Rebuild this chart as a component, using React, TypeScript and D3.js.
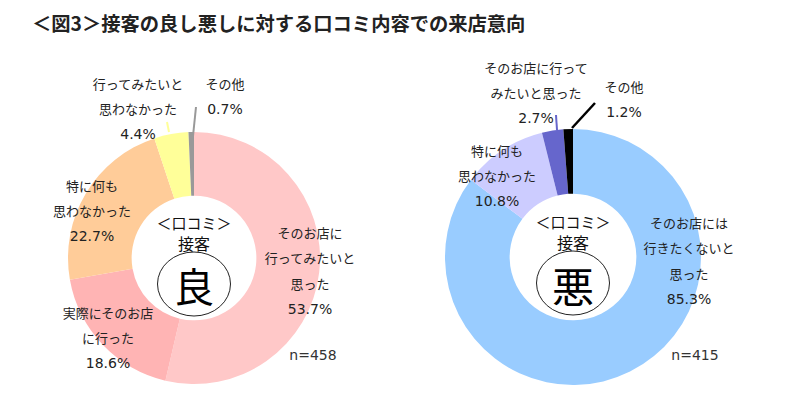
import React from 'react';
import * as d3 from 'd3';

// ---- data ----
const goodCategories = ['そのお店に行ってみたいと思った', '実際にそのお店に行った', '特に何も思わなかった', '行ってみたいと思わなかった', 'その他'];
const goodValues = [53.7, 18.6, 22.7, 4.4, 0.7];
const goodColors = ['#FFC8C8', '#FFB4B4', '#FFCC99', '#FFFF99', '#999999'];

const badCategories = ['そのお店には行きたくないと思った', '特に何も思わなかった', 'そのお店に行ってみたいと思った', 'その他'];
const badValues = [85.3, 10.8, 2.7, 1.2];
const badColors = ['#99CCFF', '#CCCCFF', '#6666CC', '#000000'];

// label lines as they are broken in the picture
const goodLabelLines = [
  ['そのお店に', '行ってみたいと', '思った'],
  ['実際にそのお店', 'に行った'],
  ['特に何も', '思わなかった'],
  ['行ってみたいと', '思わなかった'],
  ['その他'],
];
const badLabelLines = [
  ['そのお店には', '行きたくないと', '思った'],
  ['特に何も', '思わなかった'],
  ['そのお店に行って', 'みたいと思った'],
  ['その他'],
];

const goodN = 458;
const badN = 415;

const title = '＜図3＞接客の良し悪しに対する口コミ内容での来店意向';
const font = '"Noto Sans CJK JP", "Noto Sans", sans-serif';
const numFont = '"DejaVu Sans", sans-serif';

type Donut = {
  cx: number;
  cy: number;
  r: number;
  values: number[];
  colors: string[];
  lines: string[][];
  labelPos: [number, number][]; // top line centre, relative to chart centre
  leaders: ([number, number, number, number] | null)[];
  leaderWidth: number[];
  n: number;
  nPos: [number, number];
  word: string;
  wordSize: number;
};

const DonutChart = ({ d }: { d: Donut }) => {
  const pie = d3.pie<number>().sort(null).value(v => v);
  const arc = d3.arc<d3.PieArcDatum<number>>().innerRadius(d.r * 0.495).outerRadius(d.r);
  const arcs = pie(d.values);
  const lh = 25.5;
  return (
    <g transform={`translate(${d.cx},${d.cy})`}>
      {arcs.map((a, i) => (
        <path key={i} d={arc(a) || ''} fill={d.colors[i]} />
      ))}
      {d.leaders.map((l, i) =>
        l ? (
          <line key={'l' + i} x1={l[0]} y1={l[1]} x2={l[2]} y2={l[3]}
            stroke={d.colors[i]} strokeWidth={d.leaderWidth[i]} />
        ) : null
      )}
      {d.lines.map((ls, i) => (
        <g key={'t' + i} fill="#222">
          {ls.map((s, j) => (
            <text key={j} x={d.labelPos[i][0]} y={d.labelPos[i][1] + j * lh} textAnchor="middle"
              dominantBaseline="central" fontFamily={font} fontSize={13}>{s}</text>
          ))}
          <text x={d.labelPos[i][0]} y={d.labelPos[i][1] + ls.length * lh} textAnchor="middle"
            dominantBaseline="central" fontFamily={numFont} fontSize={14}>
            {d3.format('.1f')(d.values[i]) + '%'}
          </text>
        </g>
      ))}
      <text x={d.nPos[0]} y={d.nPos[1]} textAnchor="middle" dominantBaseline="central"
        fontFamily={numFont} fontSize={14} fill="#333">{`n=${d.n}`}</text>
      <text x={0} y={-36} textAnchor="middle" dominantBaseline="central"
        fontFamily={font} fontSize={15} fill="#111">＜口コミ＞</text>
      <text x={0} y={-15} textAnchor="middle" dominantBaseline="central"
        fontFamily={font} fontSize={16} fill="#111">接客</text>
      <ellipse cx={0} cy={26} rx={36.5} ry={32} fill="none" stroke="#222" strokeWidth={1} />
      <text x={0} y={27} textAnchor="middle" dominantBaseline="central"
        fontFamily={font} fontSize={d.wordSize} fill="#000">{d.word}</text>
    </g>
  );
};

const good: Donut = {
  cx: 194, cy: 258, r: 126,
  values: goodValues, colors: goodColors, lines: goodLabelLines,
  labelPos: [[116, -26], [-86, 54], [-102, -73], [-56, -175], [31, -175]],
  leaders: [null, null, null, [-27, -136, -25, -126], [2, -151, -1, -122]],
  leaderWidth: [0, 0, 0, 2, 2],
  n: goodN, nPos: [119, 97], word: '良', wordSize: 40,
};

const bad: Donut = {
  cx: 573, cy: 257, r: 128,
  values: badValues, colors: badColors, lines: badLabelLines,
  labelPos: [[116, -35], [-76, -107], [-37, -190], [51, -171]],
  leaders: [null, null, [-17, -142, -16, -127], [22, -154, -1, -129]],
  leaderWidth: [0, 0, 2, 2.5, 2.5],
  n: badN, nPos: [122, 98], word: '悪', wordSize: 42,
};

export default function App() {
  return (
    <svg width={805} height={397} style={{ display: 'block', position: 'absolute', left: 0, top: 0, background: '#fff' }}>
      <rect width={805} height={397} fill="#fff" />
      <text x={32} y={23} dominantBaseline="central" fontFamily={font} fontSize={19.3}
        fontWeight="bold" fill="#222">{title}</text>
      <DonutChart d={good} />
      <DonutChart d={bad} />
    </svg>
  );
}
